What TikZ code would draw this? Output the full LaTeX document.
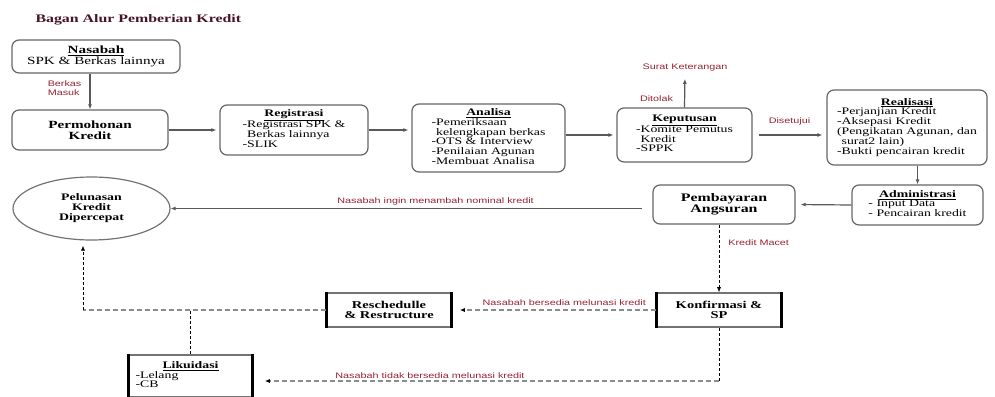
\documentclass[tikz,border=0pt]{standalone}
\usepackage{fontspec}
\setmainfont{Liberation Serif}[FakeStretch=1.38]
\newfontfamily\labelfont{Liberation Sans}[FakeStretch=1.35]
\usetikzlibrary{shapes.geometric,arrows.meta,positioning}
\definecolor{merahlabel}{RGB}{150,35,50}
\definecolor{judulgelap}{RGB}{70,20,35}
% judul kotak di tengah, isi rata kiri
\newcommand{\isikotak}[3][l]{%
  \begin{tabular}{@{}#1@{}}
    \multicolumn{1}{@{}c@{}}{\underline{\textbf{#2}}}\\
    #3
  \end{tabular}}
\begin{document}
\begin{tikzpicture}[x=1pt,y=-1pt]
  % Define box, label and connector styles
  \tikzstyle{myboxalur} = [draw=black!60, fill=white, line width=1.2pt,
  rectangle, rounded corners=7pt, inner sep=2pt, font=\fontsize{10}{9.5}\selectfont]
  \tikzstyle{myboxtegas} = [draw=black!55, fill=white, line width=1.6pt,
  rectangle, inner sep=2pt, align=center, font=\bfseries\fontsize{10.5}{10}\selectfont]
  \tikzstyle{sisitebal} = [draw=black, line width=3pt]
  \tikzstyle{labelmerah} = [text=merahlabel, inner sep=1pt,
  font=\labelfont\fontsize{8}{8.5}\selectfont]
  \tikzstyle{panah} = [draw=black!65, line width=1.2pt, -{Latex[length=5pt,width=4pt]}]
  \tikzstyle{ujung} = [-{Latex[length=5pt,width=4pt,black]}]
  \tikzstyle{garisputus} = [draw=black, line width=0.6pt, densely dashed]
  \tikzstyle{garisabu} = [draw=black!45, line width=1.4pt, dash pattern=on 5pt off 3pt]

  \useasboundingbox (0,0) rectangle (995,396);

  \node[anchor=west, text=judulgelap, font=\bfseries\fontsize{11.5}{12}\selectfont]
    (judul) at (32,20) {Bagan Alur Pemberian Kredit};

  % baris atas
  \node[myboxalur, minimum width=168pt, minimum height=33pt, font=\fontsize{11}{11}\selectfont]
    (nasabah) at (96,56.5) {\isikotak{Nasabah}{SPK \& Berkas lainnya}};
  \node[myboxalur, minimum width=156pt, minimum height=40pt, align=center,
    font=\bfseries\fontsize{11}{11}\selectfont]
    (permohonan) at (90,130) {Permohonan\\Kredit};
  \node[myboxalur, minimum width=148pt, minimum height=50pt]
    (registrasi) at (294,130) {\isikotak{Registrasi}{-Registrasi SPK \&\\
      \phantom{-}Berkas lainnya\\-SLIK}};
  \node[myboxalur, minimum width=153pt, minimum height=68pt]
    (analisa) at (488.5,138) {\isikotak{Analisa}{-Pemeriksaan\\
      \phantom{-}kelengkapan berkas\\-OTS \& Interview\\-Penilaian Agunan\\-Membuat Analisa}};
  \node[myboxalur, minimum width=135pt, minimum height=54pt]
    (keputusan) at (684.5,135) {\isikotak{Keputusan}{-Komite Pemutus\\
      \phantom{-}Kredit\\-SPPK}};
  \node[labelmerah] (surat) at (685,68) {Surat Keterangan};
  \node[myboxalur, minimum width=160pt, minimum height=75pt]
    (realisasi) at (907,127.5) {\isikotak{Realisasi}{-Perjanjian Kredit\\-Aksepasi Kredit\\
      (Pengikatan Agunan, dan\\\phantom{(}surat2 lain)\\-Bukti pencairan kredit}};

  % baris tengah
  \node[myboxalur, minimum width=131pt, minimum height=40pt]
    (administrasi) at (917.5,205) {\isikotak{Administrasi}{- Input Data\\- Pencairan kredit}};
  \node[myboxalur, minimum width=142pt, minimum height=39pt, align=center,
    font=\bfseries\fontsize{11.5}{11.5}\selectfont]
    (pembayaran) at (724,204.5) {Pembayaran\\Angsuran};
  \node[ellipse, draw=black!55, line width=1.2pt, minimum width=157pt, minimum height=63pt,
    inner sep=0pt, align=center, font=\bfseries\fontsize{10}{10}\selectfont]
    (pelunasan) at (91.5,208.5) {Pelunasan\\Kredit\\Dipercepat};

  % baris bawah
  \node[myboxtegas, minimum width=124pt, minimum height=34pt]
    (konfirmasi) at (719,310) {Konfirmasi \&\\SP};
  \node[myboxtegas, minimum width=124pt, minimum height=34pt]
    (reschedulle) at (389,310) {Reschedulle\\\& Restructure};
  \node[myboxtegas, minimum width=123pt, minimum height=42pt, font=\fontsize{10}{9.5}\selectfont]
    (likuidasi) at (190.5,376) {\isikotak[p{110pt}]{Likuidasi}{-Lelang\\-CB}};
  \foreach \kotak in {konfirmasi,reschedulle,likuidasi} {
    \draw[sisitebal] (\kotak.north west) -- (\kotak.south west)
                     (\kotak.north east) -- (\kotak.south east);
  }

  \coordinate (belok) at (83,310);
  \coordinate (belok2) at (719,381);

  % panah
  \draw[panah] (nasabah.south -| permohonan) -- (permohonan.north)
    node[labelmerah, pos=0.4, left=7pt, align=left] {Berkas\\Masuk};
  \draw[panah, shorten >=3pt] (permohonan) -- (registrasi);
  \draw[panah, shorten >=3pt] (registrasi.east) -- (registrasi.east -| analisa.west);
  \draw[panah, shorten >=3pt] (analisa.east |- keputusan) -- (keputusan.west);
  \draw[panah, shorten >=6pt] (keputusan.north) -- (surat.south)
    node[labelmerah, pos=0.25, left=10pt] {Ditolak};
  \draw[panah, shorten <=6pt, shorten >=4pt] (keputusan.east) -- (keputusan.east -| realisasi.west)
    node[labelmerah, midway, above=8pt] {Disetujui};
  \draw[panah] (realisasi.south -| administrasi) -- (administrasi.north);
  \draw[panah, shorten >=5pt] (administrasi.west) -- (pembayaran.east);
  \draw[panah, shorten <=10pt] (pembayaran.west |- pelunasan) -- (pelunasan.east)
    node[labelmerah, pos=0.45, above=2pt] {Nasabah ingin menambah nominal kredit};
  \draw[garisputus, ujung] (pembayaran.south -| konfirmasi) -- (konfirmasi.north)
    node[labelmerah, pos=0.26, right=8pt] {Kredit Macet};
  \draw[garisabu, ujung, shorten >=8pt] (konfirmasi.west) -- (reschedulle.east)
    node[labelmerah, pos=0.45, above=3pt] {Nasabah bersedia melunasi kredit};
  \draw[garisabu] (reschedulle.west) -- (belok);
  \draw[garisputus, ujung, shorten >=5pt] (belok) -- (belok |- pelunasan.south);
  \draw[garisputus] (likuidasi.north) -- (likuidasi.north |- belok);
  \draw[garisputus] (konfirmasi.south) -- (belok2);
  \draw[garisabu, ujung, shorten >=12pt] (belok2) -- (belok2 -| likuidasi.east)
    node[labelmerah, pos=0.62, above=1pt] {Nasabah tidak bersedia melunasi kredit};
\end{tikzpicture}
\end{document}
